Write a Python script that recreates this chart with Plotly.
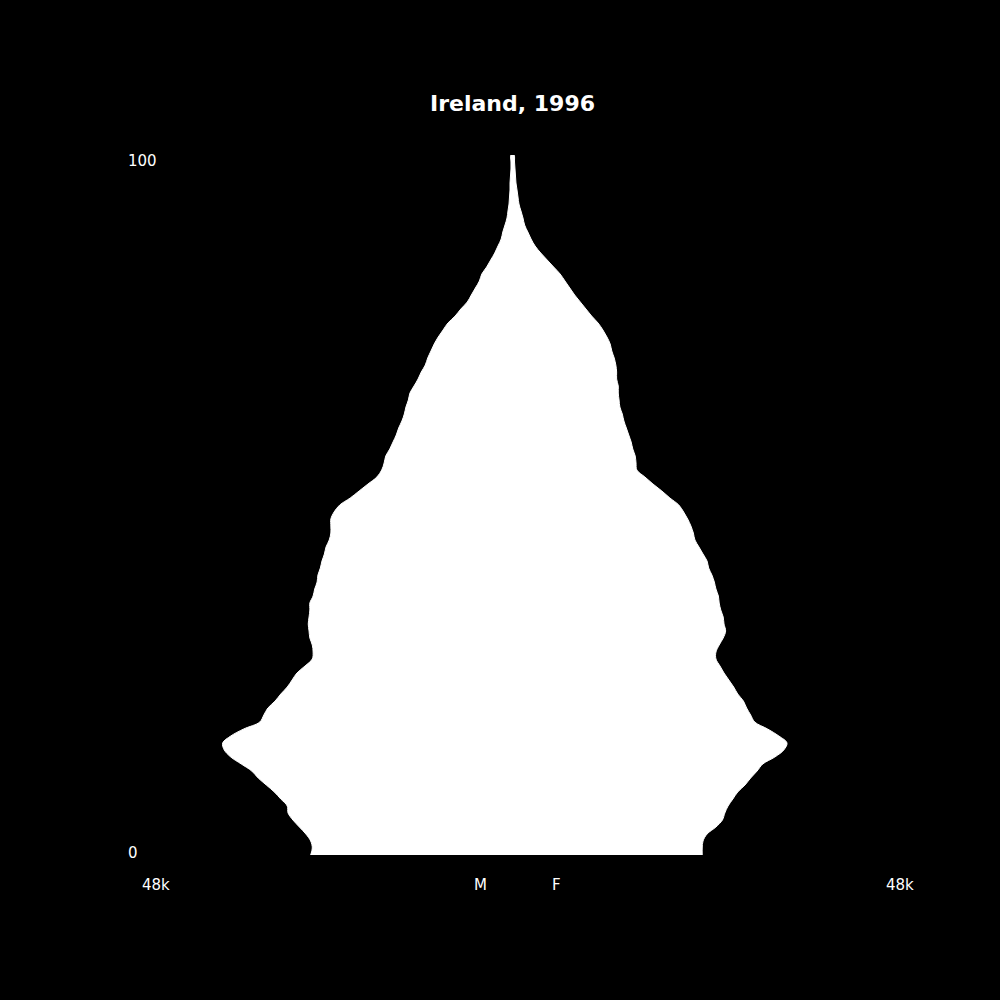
import plotly.graph_objects as go

# population in thousands, by single year of age 0..100
ages = list(range(0, 101))

male = [
    25.0, 24.8, 25.0, 25.6, 26.4, 27.2, 27.8, 27.9, 28.7, 29.5,
    30.5, 31.5, 32.3, 33.6, 34.9, 35.7, 35.9, 34.9, 33.3, 31.3,
    30.8, 30.3, 29.4, 28.7, 27.9, 27.3, 26.7, 25.7, 24.8, 24.7,
    24.8, 25.1, 25.2, 25.3, 25.2, 25.1, 25.1, 24.7, 24.5, 24.2,
    24.1, 23.8, 23.6, 23.3, 23.1, 22.7, 22.5, 22.5, 22.5, 22.1,
    21.4, 20.1, 19.0, 17.9, 16.8, 16.2, 15.9, 15.7, 15.2, 14.8,
    14.4, 14.1, 13.7, 13.4, 13.2, 12.9, 12.7, 12.2, 11.7, 11.3,
    10.8, 10.5, 10.1, 9.7, 9.2, 8.6, 8.0, 7.1, 6.4, 5.6,
    5.1, 4.6, 4.1, 3.8, 3.2, 2.7, 2.2, 1.8, 1.4, 1.2,
    0.93, 0.68, 0.56, 0.43, 0.37, 0.31, 0.31, 0.25, 0.19, 0.19,
    0.19,
]

female = [
    23.5, 23.5, 23.6, 24.1, 25.2, 26.0, 26.3, 26.7, 27.3, 27.9,
    28.8, 29.5, 30.3, 31.0, 32.5, 33.6, 34.0, 33.0, 31.6, 30.0,
    29.5, 29.0, 28.6, 27.9, 27.4, 26.8, 26.2, 25.7, 25.2, 25.2,
    25.6, 26.1, 26.4, 26.2, 26.1, 25.8, 25.6, 25.5, 25.2, 25.0,
    24.7, 24.3, 24.1, 23.6, 23.1, 22.6, 22.4, 22.1, 21.7, 21.2,
    20.6, 19.5, 18.5, 17.4, 16.4, 15.4, 15.3, 15.2, 14.9, 14.7,
    14.4, 14.1, 13.8, 13.6, 13.3, 13.2, 13.1, 13.1, 12.9, 12.9,
    12.8, 12.6, 12.3, 12.1, 11.7, 11.2, 10.6, 9.8, 9.1, 8.4,
    7.7, 7.1, 6.5, 5.9, 5.1, 4.3, 3.5, 2.8, 2.3, 1.9,
    1.5, 1.3, 1.05, 0.8, 0.68, 0.56, 0.43, 0.37, 0.31, 0.25,
    0.19,
]

title_text = "Ireland, 1996"
x_max = 48  # thousands

font = "DejaVu Sans"

# one closed outline: up the male side, back down the female side
xs = [-v for v in male] + female[::-1]
ys = ages + ages[::-1]

fig = go.Figure()
fig.add_trace(go.Scatter(
    x=xs, y=ys,
    mode="lines", line=dict(color="white", width=1, shape="spline"),
    fill="toself", fillcolor="white", hoverinfo="skip",
))

labels = [
    dict(text=title_text, x=0.5, y=1.073, xanchor="center",
         font=dict(size=22, color="white", family=font, weight="bold")),
    dict(text="100", x=0.001, y=0.992, xanchor="left"),
    dict(text="0", x=0.001, y=0.003, xanchor="left"),
    dict(text="%dk" % x_max, x=0.0395, y=-0.043, xanchor="center"),
    dict(text="%dk" % x_max, x=1.0, y=-0.043, xanchor="center"),
    dict(text="M", x=0.459, y=-0.043, xanchor="center"),
    dict(text="F", x=0.557, y=-0.043, xanchor="center"),
]
annotations = []
for a in labels:
    a.setdefault("font", dict(size=15, color="white", family=font))
    a.update(xref="paper", yref="paper", yanchor="middle", showarrow=False)
    annotations.append(a)

fig.update_layout(
    width=1000, height=1000,
    paper_bgcolor="black", plot_bgcolor="black",
    margin=dict(l=125, r=100, t=155, b=145),
    showlegend=False,
    xaxis=dict(range=[-x_max, x_max], visible=False),
    yaxis=dict(range=[0, 100], visible=False),
    annotations=annotations,
)

# drop the default page margin so the figure fills the window
fig.write_html(
    "out.html",
    config={"displayModeBar": False},
    post_script="document.body.style.margin='0';document.body.style.background='black';",
)
